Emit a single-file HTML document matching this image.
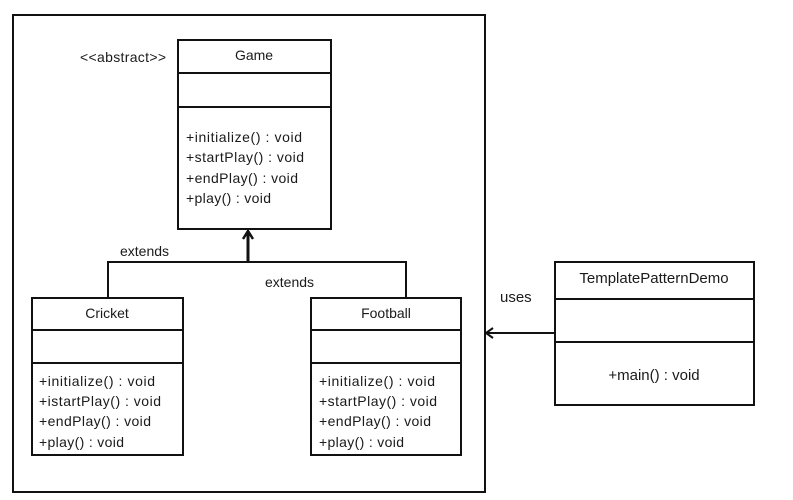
<!DOCTYPE html>
<html><head><meta charset="utf-8"><style>
html,body{margin:0;padding:0;background:#fff;}
svg{display:block}
text{font-family:"Liberation Sans",sans-serif;font-size:14px;fill:#1a1a1a;}
</style></head><body>
<svg width="793" height="500" viewBox="0 0 793 500" xmlns="http://www.w3.org/2000/svg">
<g fill="none" stroke="#111" stroke-width="2">
<rect x="13" y="15" width="472" height="477"/>
<rect x="178" y="40" width="153" height="189"/>
<line x1="178" y1="73" x2="331" y2="73"/>
<line x1="178" y1="107" x2="331" y2="107"/>
<rect x="32" y="298" width="151" height="157"/>
<line x1="32" y1="330" x2="183" y2="330"/>
<line x1="32" y1="363" x2="183" y2="363"/>
<rect x="311" y="298" width="150" height="157"/>
<line x1="311" y1="330" x2="461" y2="330"/>
<line x1="311" y1="363" x2="461" y2="363"/>
<rect x="555" y="262" width="199" height="143"/>
<line x1="555" y1="299" x2="754" y2="299"/>
<line x1="555" y1="342" x2="754" y2="342"/>
<polyline points="108,298 108,262 406,262 406,298"/>
<line x1="248" y1="262" x2="248" y2="232" stroke-width="3"/>
<polyline points="243,239 248,231 253,239" stroke-width="2.5"/>
<line x1="555" y1="333" x2="486" y2="333"/>
<polyline points="493,328 486,333 493,338"/>
</g>
<text x="80" y="62" textLength="86">&lt;&lt;abstract&gt;&gt;</text>
<text x="254" y="60" text-anchor="middle">Game</text>
<text x="186" y="142" textLength="116">+initialize()  : void</text>
<text x="186" y="162" textLength="118">+startPlay() : void</text>
<text x="186" y="183" textLength="112">+endPlay()  : void</text>
<text x="186" y="203" textLength="85">+play() : void</text>
<text x="120" y="256">extends</text>
<text x="265" y="287">extends</text>
<text x="107" y="318" text-anchor="middle">Cricket</text>
<text x="39" y="386" textLength="116">+initialize()  : void</text>
<text x="39" y="406" textLength="122">+istartPlay() : void</text>
<text x="39" y="426" textLength="112">+endPlay()  : void</text>
<text x="39" y="447" textLength="85">+play() : void</text>
<text x="386" y="318" text-anchor="middle">Football</text>
<text x="319" y="386" textLength="116">+initialize()  : void</text>
<text x="319" y="406" textLength="118">+startPlay() : void</text>
<text x="319" y="426" textLength="112">+endPlay()  : void</text>
<text x="319" y="447" textLength="85">+play() : void</text>
<text x="654" y="283" text-anchor="middle" style="font-size:15px">TemplatePatternDemo</text>
<text x="654" y="380" text-anchor="middle" style="font-size:15px">+main() : void</text>
<text x="500" y="302" style="font-size:15px">uses</text>
</svg>
</body></html>
